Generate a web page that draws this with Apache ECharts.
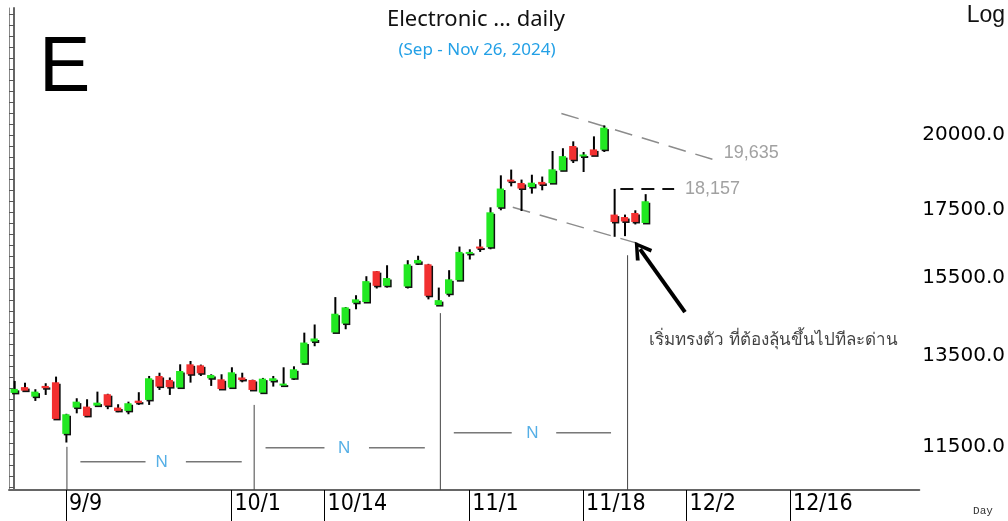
<!DOCTYPE html>
<html><head><meta charset="utf-8">
<script src="https://cdn.jsdelivr.net/npm/echarts@6/dist/echarts.min.js"></script>
<style>html,body{margin:0;padding:0;background:#fff}#c{width:1008px;height:521px}</style>
</head><body><div id="c"></div>
<script>
// ---- data ----
const tradeDates = ['9/2','9/3','9/4','9/5','9/6','9/9','9/10','9/11','9/12','9/13','9/16','9/17','9/18','9/19','9/20','9/23','9/24','9/25','9/26','9/27','9/30',
 '10/1','10/2','10/3','10/4','10/7','10/8','10/9','10/10','10/11','10/15','10/16','10/17','10/18','10/21','10/22','10/24','10/25','10/28','10/29','10/30','10/31',
 '11/1','11/4','11/5','11/6','11/7','11/8','11/11','11/12','11/13','11/14','11/15','11/18','11/19','11/20','11/21','11/22','11/25','11/26'];
const openV  = [12650,12780,12566,12807,12890,11764,12325,12346,12368,12620,12325,12253,12477,12493,13035,12943,12770,13307,13283,12982,12958,
 12770,13000,12943,12655,12920,12830,12982,13331,13855,14080,14303,14840,14860,15695,15293,15275,15913,15887,14780,15080,15447,
 16195,16395,16375,17575,18460,18350,18220,18385,18345,18766,19593,19277,19475,19465,17350,17275,17400,17095];
const highV  = [12920,12880,12732,12868,13020,12190,12530,12508,12678,12630,12398,12455,12665,13035,13110,13000,13307,13385,13300,13074,13074,
 13237,13110,12950,12990,13035,13237,13260,14075,14280,14990,14730,15040,15555,15700,15860,16003,16130,15900,15245,15722,16395,
 16315,16610,17575,18600,18790,18460,18620,18560,19420,19515,19755,19385,19930,20320,18157,17350,17483,17990];
const lowV   = [12640,12680,12471,12604,12070,11585,12200,12118,12360,12290,12225,12180,12383,12383,12716,12604,12760,12882,13035,12807,12730,
 12738,12890,12710,12650,12792,12820,12943,13300,13740,14075,14160,14670,14840,15220,15245,15220,15868,14930,14760,15000,15420,
 16022,16240,16315,17483,18240,17460,18007,18113,18340,18740,19010,18710,19260,19385,16680,16700,17050,17090];
const closeV = [12740,12700,12678,12755,12080,12180,12455,12145,12433,12368,12253,12420,12427,12982,12792,12780,13150,13074,13097,13058,12738,
 13120,12943,12716,12973,12982,12860,13190,13830,13930,14555,14720,14930,15420,15293,15505,15887,16010,15025,14910,15470,16240,
 16240,16340,17420,18170,18414,18170,18360,18300,18800,19244,19120,19300,19270,20240,17125,17140,17125,17765];
const dateLabels = ['9/9','10/1','10/14','11/1','11/18','12/2','12/16'];
const yTickLabels = [11500,13500,15500,17500,20000];
const yMin = 10650, yMax = 25020;

// annotations (x in category slots, y in index values)
const nSegments = [
  [[6.4,11195],[12.7,11195]], [[16.6,11195],[22.0,11195]],
  [[24.3,11476],[30.0,11476]], [[34.3,11476],[39.7,11476]],
  [[42.5,11785],[48.1,11785]], [[52.4,11785],[57.7,11785]]
];
const nLabels = [[14.25,11195],[31.9,11476],[50.1,11785]];
const vLines = [[5.1,11497],[23.2,12383],[41.2,14570],[59.3,16144]];
const trendUpper = [[52.9,20757],[67.5,19136]];
const trendLower = [[48.2,17575],[60.9,16432]];
const resistLine = [[58.6,18157],[63.8,18157]];
const priceLabels = [{x:68.6,y:19340,t:'19,635'},{x:64.85,y:18157,t:'18,157'}];
const noteText = {x:61.4,y:13892,t:'เริ่มทรงตัว ที่ต้องลุ้นขึ้นไปทีละด่าน'};
const arrowLine = [[64.85,14598],[60.5,16320]];

// ---- calendar categories (weekdays) ----
const categories = [];
{ const d = new Date(2024,8,2); while (categories.length < 88) { const w = d.getDay(); if (w!==0 && w!==6) categories.push((d.getMonth()+1)+'/'+d.getDate()); d.setDate(d.getDate()+1); } }
const candleData = tradeDates.map((d,i)=>[categories.indexOf(d), openV[i], closeV[i], lowV[i], highV[i]]);
const minorTicks = []; for (let v=10700; v<25000; v*=1.0197) minorTicks.push(Math.round(v));

const labelSet = new Set(dateLabels);
const showCat = (i)=> labelSet.has(categories[i]);

function seg(points, style){
  return {type:'line', xAxisIndex:1, yAxisIndex:0, data:points, symbol:'none', silent:true, lineStyle:style, z:3, animation:false};
}
const series = [];
series.push({
  type:'custom', xAxisIndex:0, yAxisIndex:0, data:candleData, z:5,
  renderItem(params, api){
    const x=api.value(0), o=api.value(1), c=api.value(2), l=api.value(3), h=api.value(4);
    const pO=api.coord([x,o]), pC=api.coord([x,c]), pL=api.coord([x,l]), pH=api.coord([x,h]);
    const bw = api.size([1,0])[0]*0.7;
    const top=Math.min(pO[1],pC[1]); let hg=Math.abs(pO[1]-pC[1]); if(hg<2) hg=2;
    const cx=pO[0];
    return {type:'group', children:[
      {type:'line', shape:{x1:cx+0.5,y1:pH[1],x2:cx+0.5,y2:pL[1]}, style:{stroke:'#000', lineWidth:2}},
      {type:'rect', shape:{x:cx-bw/2+1.5,y:top+1.5,width:bw,height:hg}, style:{fill:'#111'}},
      {type:'rect', shape:{x:cx-bw/2,y:top,width:bw,height:hg}, style:{fill: c>=o ? '#22e822' : '#f23030'}}
    ]};
  }
});
nSegments.forEach(s=>series.push(seg(s,{color:'#333',width:1})));
vLines.forEach(v=>series.push(seg([v,[v[0],yMin]],{color:'#444',width:1})));
series.push(seg(trendUpper,{color:'#8c8c8c',width:1.5,type:[18,10]}));
series.push(seg(trendLower,{color:'#8c8c8c',width:1.5,type:[18,10]}));
series.push(seg(resistLine,{color:'#111',width:2,type:[13,8]}));
series.push({
  type:'line', xAxisIndex:1, yAxisIndex:0, data:[], symbol:'none', silent:true,
  markLine:{silent:true, symbol:['none','path://M5,0 L10,9 L8.4,10.2 L5,3.6 L1.6,10.2 L0,9 Z'], symbolSize:[20,18],
    label:{show:false}, lineStyle:{color:'#000',width:4,type:'solid'},
    data:[[{coord:arrowLine[0]},{coord:arrowLine[1]}]]}
});
const texts = [];
nLabels.forEach(p=>texts.push({value:p, label:{formatter:'N', color:'#2a9be0', fontSize:17, align:'center', position:'inside'}}));
priceLabels.forEach(p=>texts.push({value:[p.x,p.y], label:{formatter:p.t, color:'#8a8a8a', fontSize:18, align:'left', position:'inside'}}));
texts.push({value:[noteText.x,noteText.y], label:{formatter:noteText.t, color:'#111', fontSize:17, align:'left', position:'inside'}});
series.push({type:'scatter', xAxisIndex:1, yAxisIndex:0, symbolSize:0, silent:true, z:6, data:texts,
  label:{show:true, fontFamily:'Liberation Sans, Noto Sans, sans-serif', verticalAlign:'middle'}});

const chart = echarts.init(document.getElementById('c'), null, {renderer:'canvas'});
chart.setOption({
  animation:false,
  backgroundColor:'#fff',
  grid:{left:9, right:86, top:8, bottom:31},
  xAxis:[
    {type:'category', data:categories, boundaryGap:true,
     axisLine:{lineStyle:{color:'#666', width:2}},
     axisTick:{show:true, alignWithLabel:true, interval:showCat, length:31, lineStyle:{color:'#000'}},
     axisLabel:{interval:showCat, align:'left', margin:3, padding:[0,0,0,3], fontSize:23, color:'#000',
       fontFamily:'DejaVu Sans Condensed, DejaVu Sans, sans-serif'},
     splitLine:{show:false}},
    {type:'value', min:-0.5, max:87.5, show:false}
  ],
  yAxis:[
    {type:'log', position:'right', min:yMin, max:yMax, logBase:10,
     axisLine:{show:true, lineStyle:{color:'#666', width:2}},
     axisTick:{show:true, inside:true, length:4, customValues:minorTicks, lineStyle:{color:'#555'}},
     axisLabel:{show:true, customValues:yTickLabels, formatter:(v)=>Number(v).toFixed(1), fontSize:20, margin:3, color:'#000',
       fontFamily:'DejaVu Sans, sans-serif'},
     splitLine:{show:false}},
    {type:'log', position:'left', min:yMin, max:yMax, logBase:10,
     axisLine:{show:true, lineStyle:{color:'#888', width:1}},
     axisTick:{show:true, inside:true, length:3, customValues:minorTicks, lineStyle:{color:'#555'}},
     axisLabel:{show:false}, splitLine:{show:false}}
  ],
  graphic:[
    {type:'text', x:39, y:70, style:{text:'E', font:'77px "Liberation Sans", Arial, sans-serif', fill:'#000', verticalAlign:'middle'}},
    {type:'text', x:476, y:20, style:{text:'Electronic ... daily', font:'22px "Noto Sans", sans-serif', fill:'#111', align:'center', verticalAlign:'middle'}},
    {type:'text', x:477, y:50, style:{text:'(Sep - Nov 26, 2024)', font:'17px "Noto Sans", sans-serif', fill:'#23a0e6', align:'center', verticalAlign:'middle'}},
    {type:'text', x:1005, y:16, style:{text:'Log', font:'23px "Liberation Sans", sans-serif', fill:'#111', align:'right', verticalAlign:'middle'}},
    {type:'text', x:983, y:511, style:{text:'Day', font:'11px "Liberation Mono", monospace', fill:'#333', align:'center', verticalAlign:'middle'}}
  ],
  series: series
});
</script></body></html>
